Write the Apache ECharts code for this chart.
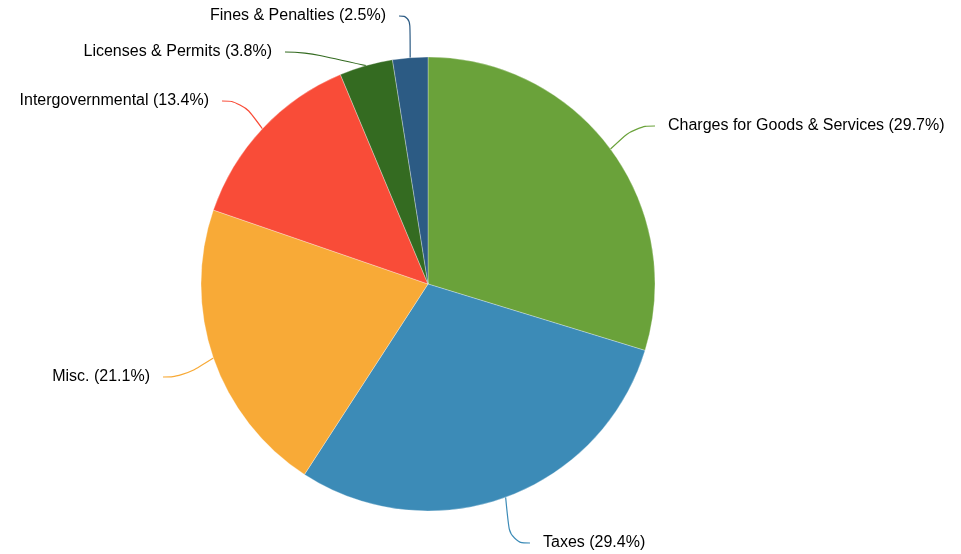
<!DOCTYPE html>
<html>
<head>
<meta charset="utf-8">
<script src="https://cdn.jsdelivr.net/npm/echarts@6/dist/echarts.min.js"></script>
<style>
  html, body { margin: 0; padding: 0; background: #fff; }
  #chart { width: 961px; height: 554px; }
</style>
</head>
<body>
<div id="chart"></div>
<script>
// Revenue sources, share of total (%)
const categories = [
  'Charges for Goods & Services',
  'Taxes',
  'Misc.',
  'Intergovernmental',
  'Licenses & Permits',
  'Fines & Penalties'
];
const shares = [29.7, 29.4, 21.1, 13.4, 3.8, 2.5];
const colors = ['#6aa23a', '#3c8bb7', '#f8aa37', '#f94c38', '#346b21', '#2c5b84'];

// Label anchor points (where the leader line meets the label box) and alignment
const labelAnchors = [
  { x: 655, y: 126, align: 'left' },
  { x: 530, y: 543, align: 'left' },
  { x: 163, y: 377, align: 'right' },
  { x: 222, y: 101, align: 'right' },
  { x: 285, y: 52, align: 'right' },
  { x: 399, y: 16, align: 'right' }
];

const textFont = {
  fontFamily: 'Liberation Sans, Arial, sans-serif',
  fontSize: 16,
  color: '#000'
};

const chart = echarts.init(document.getElementById('chart'), null, { renderer: 'canvas' });

chart.setOption({
  animation: false,
  color: colors,
  series: [{
    type: 'pie',
    center: [428, 284],
    radius: [0, 227],
    startAngle: 90,
    clockwise: true,
    avoidLabelOverlap: false,
    itemStyle: { borderColor: 'rgba(255,255,255,0.6)', borderWidth: 0.5 },
    data: categories.map((name, i) => ({ name: name, value: shares[i] })),
    label: {
      show: true,
      // an empty spacer keeps the leader line clear of the text
      formatter: p => {
        const txt = '{t|' + p.name + ' (' + p.value.toFixed(1) + '%)}';
        return labelAnchors[p.dataIndex].align === 'left' ? '{gap|}' + txt : txt + '{gap|}';
      },
      ...textFont,
      rich: {
        t: textFont,
        gap: { width: 13, height: 16 }
      }
    },
    labelLine: {
      show: true,
      length: 20,
      length2: 20,
      smooth: 0.5,
      lineStyle: { width: 1.2 }
    },
    labelLayout: function (params) {
      const a = labelAnchors[params.dataIndex];
      return {
        x: a.x,
        y: a.y,
        align: a.align,
        verticalAlign: 'middle',
        moveOverlap: null
      };
    }
  }]
});
</script>
</body>
</html>
